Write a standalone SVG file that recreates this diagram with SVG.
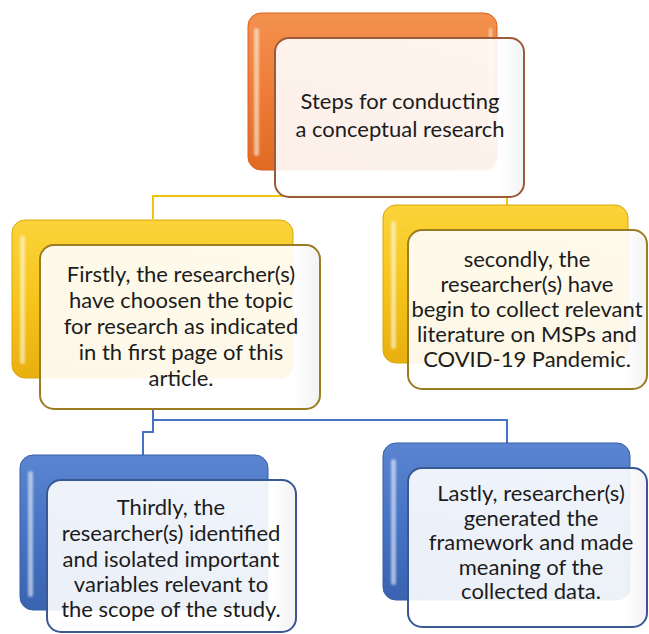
<svg xmlns="http://www.w3.org/2000/svg" width="649" height="634" viewBox="0 0 649 634">
  <defs>
    <linearGradient id="gOrange" x1="0" y1="0" x2="0" y2="1">
      <stop offset="0" stop-color="#F3914F"/>
      <stop offset="0.5" stop-color="#EE7C36"/>
      <stop offset="1" stop-color="#E06A22"/>
    </linearGradient>
    <linearGradient id="gYellow" x1="0" y1="0" x2="0" y2="1">
      <stop offset="0" stop-color="#FBD43A"/>
      <stop offset="0.5" stop-color="#F6C51B"/>
      <stop offset="1" stop-color="#E8B00E"/>
    </linearGradient>
    <linearGradient id="gBlue" x1="0" y1="0" x2="0" y2="1">
      <stop offset="0" stop-color="#5B85D0"/>
      <stop offset="0.5" stop-color="#4673C4"/>
      <stop offset="1" stop-color="#3A63B0"/>
    </linearGradient>
    <linearGradient id="gFace" x1="0" y1="0" x2="1" y2="0">
      <stop offset="0" stop-color="#FFFFFF" stop-opacity="0.9"/>
      <stop offset="0.9" stop-color="#FFFFFF" stop-opacity="0.91"/>
      <stop offset="1" stop-color="#F2F2F2" stop-opacity="0.94"/>
    </linearGradient>
    <filter id="soft" x="-50%" y="-10%" width="200%" height="120%">
      <feGaussianBlur stdDeviation="1.2"/>
    </filter>
  </defs>
  <style>
    .face { fill: url(#gFace); stroke-width: 2; }
    .shine { fill: #FFFFFF; opacity: 0.55; filter: url(#soft); }
    .lbl { font-family: Lato, "Open Sans", "Liberation Sans", sans-serif; font-size: 22px; fill: #1C1C1C; text-anchor: middle; }
    .link-y { fill: none; stroke: #F1C40F; stroke-width: 2; }
    .link-b { fill: none; stroke: #4472C4; stroke-width: 2; }
  </style>

  <rect width="649" height="634" fill="#FFFFFF"/>

  <!-- connectors -->
  <g id="connectors">
    <path class="link-y" d="M153 219 V196 H507 V206"/>
    <path class="link-b" d="M153 409 V432 H143 V456"/>
    <path class="link-b" d="M153 420 H507 V443"/>
  </g>

  <!-- root -->
  <g id="node-root">
    <rect x="248" y="13" width="249" height="157" rx="13" fill="url(#gOrange)" stroke="#D8641E" stroke-width="1"/>
    <rect x="254" y="28" width="5" height="128" rx="2.5" class="shine"/>
    <rect x="489" y="28" width="3" height="110" rx="1.5" class="shine" opacity="0.3"/>
    <rect x="275" y="38" width="249" height="159" rx="14" class="face" stroke="#9A5B3A"/>
    <text class="lbl" x="400" y="109" font-size="24">Steps for conducting</text>
    <text class="lbl" x="400" y="137" font-size="24">a conceptual research</text>
  </g>

  <!-- step 1 -->
  <g id="node-first">
    <rect x="12" y="220" width="281" height="158" rx="13" fill="url(#gYellow)" stroke="#D9A80A" stroke-width="1"/>
    <rect x="20" y="236" width="5" height="128" rx="2.5" class="shine"/>
    <rect x="40" y="245" width="280" height="164" rx="14" class="face" stroke="#9C7C22"/>
    <text class="lbl" x="181" y="282" font-size="23">Firstly, the researcher(s)</text>
    <text class="lbl" x="181" y="308" font-size="23">have choosen the topic</text>
    <text class="lbl" x="181" y="334" font-size="23">for research as indicated</text>
    <text class="lbl" x="181" y="360" font-size="23">in th first page of this</text>
    <text class="lbl" x="181" y="386" font-size="23">article.</text>
  </g>

  <!-- step 2 -->
  <g id="node-second">
    <rect x="383" y="205" width="245" height="158" rx="13" fill="url(#gYellow)" stroke="#D9A80A" stroke-width="1"/>
    <rect x="391" y="221" width="5" height="128" rx="2.5" class="shine"/>
    <rect x="408" y="230" width="239" height="159" rx="14" class="face" stroke="#9C7C22"/>
    <text class="lbl" x="527" y="267">secondly, the</text>
    <text class="lbl" x="527" y="292">researcher(s) have</text>
    <text class="lbl" x="527" y="317">begin to collect relevant</text>
    <text class="lbl" x="527" y="342">literature on MSPs and</text>
    <text class="lbl" x="527" y="367">COVID-19 Pandemic.</text>
  </g>

  <!-- step 3 -->
  <g id="node-third">
    <rect x="20" y="455" width="248" height="155" rx="13" fill="url(#gBlue)" stroke="#365EA8" stroke-width="1"/>
    <rect x="28" y="471" width="5" height="126" rx="2.5" class="shine"/>
    <rect x="47" y="480" width="249" height="152" rx="14" class="face" stroke="#3A5894"/>
    <text class="lbl" x="171" y="515">Thirdly, the</text>
    <text class="lbl" x="171" y="541">researcher(s) identified</text>
    <text class="lbl" x="171" y="567">and isolated important</text>
    <text class="lbl" x="171" y="592">variables relevant to</text>
    <text class="lbl" x="171" y="617">the scope of the study.</text>
  </g>

  <!-- step 4 -->
  <g id="node-last">
    <rect x="383" y="443" width="247" height="157" rx="13" fill="url(#gBlue)" stroke="#365EA8" stroke-width="1"/>
    <rect x="391" y="459" width="5" height="126" rx="2.5" class="shine"/>
    <rect x="408" y="468" width="239" height="159" rx="14" class="face" stroke="#3A5894"/>
    <text class="lbl" x="531" y="501" font-size="21">Lastly, researcher(s)</text>
    <text class="lbl" x="531" y="525.5" font-size="21">generated the</text>
    <text class="lbl" x="531" y="550" font-size="21">framework and made</text>
    <text class="lbl" x="531" y="574.5" font-size="21">meaning of the</text>
    <text class="lbl" x="531" y="599" font-size="21">collected data.</text>
  </g>
</svg>
